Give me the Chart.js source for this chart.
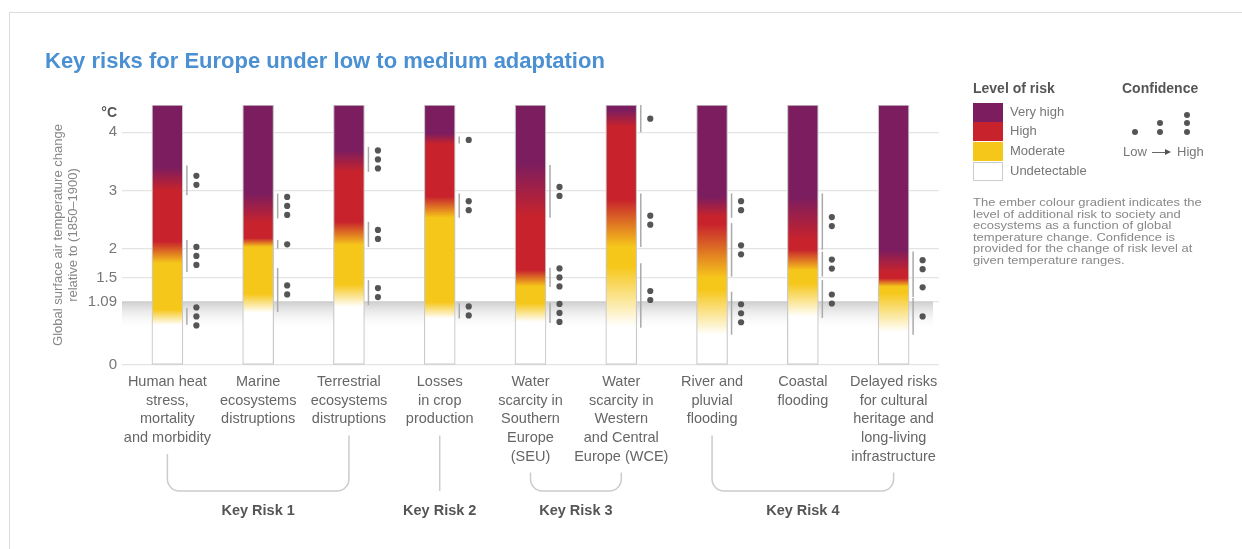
<!DOCTYPE html>
<html>
<head>
<meta charset="utf-8">
<script src="https://cdn.jsdelivr.net/npm/chart.js@4.4.1/dist/chart.umd.min.js"></script>
<style>
  body { margin: 0; background: #fff; font-family: "Liberation Sans", Arial, sans-serif; }
  #wrap { position: relative; width: 1242px; height: 549px; overflow: hidden; }
  #frame { position: absolute; left: 9px; top: 12px; right: -2px; bottom: -2px; border-top: 1.5px solid #dcdcdc; border-left: 1.5px solid #dcdcdc; }
  #chart { position: absolute; left: 0; top: 0; }
  .title { position: absolute; left: 45px; top: 48px; font-size: 22px; line-height: 26px; font-weight: bold; color: #4a90d2; white-space: nowrap; }
  .lgTitle { position: absolute; font-size: 14px; font-weight: bold; color: #555; line-height: 16px; }
  .sw { position: absolute; left: 973px; width: 30px; height: 19px; }
  .swLabel { position: absolute; left: 1010px; font-size: 13px; color: #777; line-height: 16px; }
  .dot { position: absolute; width: 6px; height: 6px; border-radius: 50%; background: #555; }
  .small { position: absolute; font-size: 13px; color: #777; line-height: 16px; }
  .note { position: absolute; left: 973px; top: 197px; width: 230px; font-size: 11px; line-height: 11.6px; color: #888;
          white-space: nowrap; transform: scaleX(1.18); transform-origin: left top; }
</style>
</head>
<body>
<div id="wrap">
  <div id="frame"></div>
  <canvas id="chart" width="1242" height="549"></canvas>
  <div class="title">Key risks for Europe under low to medium adaptation</div>

  <div class="lgTitle" style="left:973px; top:80px;">Level of risk</div>
  <div class="sw" style="top:103px; background:#7b1d5f;"></div>
  <div class="sw" style="top:122px; background:#c8232c;"></div>
  <div class="sw" style="top:142px; background:#f6c71b;"></div>
  <div class="sw" style="top:162px; height:17px; width:28px; background:#fff; border:1px solid #ccc;"></div>
  <div class="swLabel" style="top:104px;">Very high</div>
  <div class="swLabel" style="top:123px;">High</div>
  <div class="swLabel" style="top:143px;">Moderate</div>
  <div class="swLabel" style="top:163px;">Undetectable</div>

  <div class="lgTitle" style="left:1122px; top:80px;">Confidence</div>
  <div class="dot" style="left:1132px; top:129px;"></div>
  <div class="dot" style="left:1157px; top:120px;"></div>
  <div class="dot" style="left:1157px; top:129px;"></div>
  <div class="dot" style="left:1184px; top:112px;"></div>
  <div class="dot" style="left:1184px; top:120px;"></div>
  <div class="dot" style="left:1184px; top:129px;"></div>
  <div class="small" style="left:1123px; top:144px;">Low</div>
  <div style="position:absolute; left:1152px; top:152px; width:14px; height:1px; background:#666;"></div>
  <div style="position:absolute; left:1165px; top:149px; width:0; height:0; border-top:3.5px solid transparent; border-bottom:3.5px solid transparent; border-left:6px solid #555;"></div>
  <div class="small" style="left:1177px; top:144px;">High</div>

  <div class="note">The ember colour gradient indicates the<br>level of additional risk to society and<br>ecosystems as a function of global<br>temperature change. Confidence is<br>provided for the change of risk level at<br>given temperature ranges.</div>
</div>

<script>
// categorias (riesgos)
const categories = [
    ['Human heat', 'stress,', 'mortality', 'and morbidity'],
    ['Marine', 'ecosystems', 'distruptions'],
    ['Terrestrial', 'ecosystems', 'distruptions'],
    ['Losses', 'in crop', 'production'],
    ['Water', 'scarcity in', 'Southern', 'Europe', '(SEU)'],
    ['Water', 'scarcity in', 'Western', 'and Central', 'Europe (WCE)'],
    ['River and', 'pluvial', 'flooding'],
    ['Coastal', 'flooding'],
    ['Delayed risks', 'for cultural', 'heritage and', 'long-living', 'infrastructure']
];

// eje y (°C)
const yTicks = [0, 1.09, 1.5, 2, 3, 4];
const yMax = 4.47;
const observedWarming = 1.09;

// transiciones de nivel de riesgo (°C): inicio y fin del gradiente
const moderateFrom = [0.69, 0.90, 1.00, 0.80, 0.74, 0.66, 0.52, 0.83, 0.57];
const moderateTo   = [0.95, 1.22, 1.38, 1.08, 1.06, 1.69, 1.29, 1.40, 1.24];
const highFrom     = [1.75, 2.03, 2.06, 2.53, 1.35, 2.03, 1.50, 1.63, 1.35];
const highTo       = [2.12, 2.18, 2.46, 2.89, 1.63, 2.84, 2.42, 1.98, 1.49];
const veryHighFrom = [3.00, 2.44, 3.32, 3.80, 2.55, 4.10, 2.55, 2.15, 1.60];
const veryHighTo   = [3.40, 2.95, 3.69, 3.98, 3.47, 4.38, 2.89, 2.89, 1.98];

// confianza: rangos (°C) y numero de puntos por riesgo
const confFrom = [[2.92, 1.60, 0.69], [2.52, 2.00, 0.91], [3.32, 2.03, 1.03], [3.81, 2.53, 0.80], [2.53, 1.34, 0.72],
                  [4.00, 2.03, 0.64], [2.53, 1.52, 0.52], [1.98, 1.52, 0.81], [1.50, 1.17, 0.52]];
const confTo   = [[3.43, 2.15, 0.98], [2.95, 2.15, 1.67], [3.75, 2.46, 1.46], [3.93, 2.95, 1.06], [3.44, 1.67, 1.07],
                  [4.47, 2.95, 1.75], [2.95, 2.44, 1.26], [2.95, 1.95, 1.46], [1.95, 1.50, 1.15]];
const confDots = [[2, 3, 3], [3, 1, 2], [3, 2, 2], [1, 2, 2], [2, 3, 3],
                  [1, 2, 2], [2, 2, 3], [2, 2, 2], [2, 1, 1]];

// grupos de riesgo clave
const keyRisks = ['Key Risk 1', 'Key Risk 2', 'Key Risk 3', 'Key Risk 4'];
const keyRiskFirst = [0, 3, 4, 6];
const keyRiskLast  = [2, 3, 5, 8];

const COLORS = { white: '#ffffff', moderate: '#f6c71b', high: '#c8232c', veryHigh: '#7b1d5f' };
const FONT = '"Liberation Sans", Arial, sans-serif';

function emberFill(ctx) {
    const chart = ctx.chart;
    if (!chart.chartArea || ctx.dataIndex === undefined) return COLORS.white;
    const i = ctx.dataIndex;
    const y = chart.scales.y;
    const g = chart.ctx.createLinearGradient(0, y.getPixelForValue(0), 0, y.getPixelForValue(yMax));
    const stop = (v, c) => g.addColorStop(Math.min(Math.max(v / yMax, 0), 1), c);
    stop(0, COLORS.white);
    stop(moderateFrom[i], COLORS.white);
    stop(moderateTo[i], COLORS.moderate);
    stop(highFrom[i], COLORS.moderate);
    stop(highTo[i], COLORS.high);
    stop(veryHighFrom[i], COLORS.high);
    stop(veryHighTo[i], COLORS.veryHigh);
    stop(yMax, COLORS.veryHigh);
    return g;
}

const riskMarks = {
    id: 'riskMarks',
    beforeDatasetsDraw(chart) {
        // banda gris del calentamiento observado
        const { ctx, chartArea, scales: { y } } = chart;
        const top = y.getPixelForValue(observedWarming);
        const bottom = y.getPixelForValue(0.6);
        const g = ctx.createLinearGradient(0, top, 0, bottom);
        g.addColorStop(0, 'rgba(190,190,190,0.75)');
        g.addColorStop(1, 'rgba(255,255,255,0)');
        ctx.save();
        ctx.fillStyle = g;
        ctx.fillRect(chartArea.left, top, chartArea.right - chartArea.left - 6, bottom - top);
        ctx.restore();
    },
    afterDatasetsDraw(chart) {
        const { ctx, chartArea, scales: { x, y } } = chart;
        ctx.save();

        // lineas y puntos de confianza
        categories.forEach((_, i) => {
            const cx = x.getPixelForValue(i);
            confFrom[i].forEach((from, k) => {
                const y0 = y.getPixelForValue(from);
                const y1 = y.getPixelForValue(confTo[i][k]);
                ctx.strokeStyle = '#aaaaaa';
                ctx.lineWidth = 1.5;
                ctx.beginPath();
                ctx.moveTo(cx + 19.5, y0);
                ctx.lineTo(cx + 19.5, y1);
                ctx.stroke();
                const n = confDots[i][k];
                const mid = (y0 + y1) / 2;
                ctx.fillStyle = '#555555';
                for (let d = 0; d < n; d++) {
                    ctx.beginPath();
                    ctx.arc(cx + 29, mid + (d - (n - 1) / 2) * 9, 3.1, 0, Math.PI * 2);
                    ctx.fill();
                }
            });
        });

        // unidad
        ctx.fillStyle = '#555';
        ctx.font = 'bold 14px ' + FONT;
        ctx.textAlign = 'right';
        ctx.textBaseline = 'middle';
        ctx.fillText('°C', chartArea.left - 5, chartArea.top + 8);

        // llaves de riesgos clave
        const bottom = chartArea.bottom + 126;
        const r = 12;
        const topOf = (i) => chartArea.bottom + 15 + categories[i].length * 18.5;
        ctx.strokeStyle = '#cccccc';
        ctx.lineWidth = 1.5;
        keyRisks.forEach((label, k) => {
            const a = keyRiskFirst[k], b = keyRiskLast[k];
            const xl = x.getPixelForValue(a), xr = x.getPixelForValue(b);
            ctx.beginPath();
            if (a === b) {
                ctx.moveTo(xl, topOf(a));
                ctx.lineTo(xl, bottom);
            } else {
                ctx.moveTo(xl, topOf(a));
                ctx.lineTo(xl, bottom - r);
                ctx.arcTo(xl, bottom, xl + r, bottom, r);
                ctx.lineTo(xr - r, bottom);
                ctx.arcTo(xr, bottom, xr, bottom - r, r);
                ctx.lineTo(xr, topOf(b));
            }
            ctx.stroke();
            ctx.fillStyle = '#555';
            ctx.font = 'bold 14.5px ' + FONT;
            ctx.textAlign = 'center';
            ctx.fillText(label, (xl + xr) / 2, chartArea.bottom + 146);
        });
        ctx.restore();
    }
};

new Chart(document.getElementById('chart'), {
    type: 'bar',
    data: {
        labels: categories,
        datasets: [{
            data: categories.map(() => yMax),
            backgroundColor: emberFill,
            borderColor: '#c9c9c9',
            borderWidth: 1.2,
            borderSkipped: false,
            barThickness: 31
        }]
    },
    options: {
        responsive: false,
        animation: false,
        layout: { padding: { left: 40, right: 303, top: 105, bottom: 34 } },
        plugins: {
            legend: { display: false },
            tooltip: { enabled: false }
        },
        scales: {
            x: {
                afterFit: (axis) => { axis.height = 150; },
                grid: { display: false },
                border: { display: false },
                ticks: {
                    color: '#666',
                    font: { size: 14.5, family: FONT, lineHeight: 1.28 },
                    padding: 0,
                    maxRotation: 0,
                    autoSkip: false
                }
            },
            y: {
                min: 0,
                max: yMax,
                afterBuildTicks: (axis) => { axis.ticks = yTicks.map(v => ({ value: v })); },
                afterFit: (axis) => { axis.width = 82; },
                grid: { color: '#e4e4e4', lineWidth: 1.2, drawTicks: false },
                border: { display: false },
                ticks: {
                    color: '#777',
                    padding: 5,
                    font: { size: 15, family: FONT },
                    callback: (value) => String(value)
                },
                title: {
                    display: true,
                    text: ['Global surface air temperature change', 'relative to (1850–1900)'],
                    color: '#888',
                    font: { size: 13, family: FONT, lineHeight: 1.15 },
                    padding: { top: 10.5, bottom: 0 }
                }
            }
        }
    },
    plugins: [riskMarks]
});
</script>
</body>
</html>
